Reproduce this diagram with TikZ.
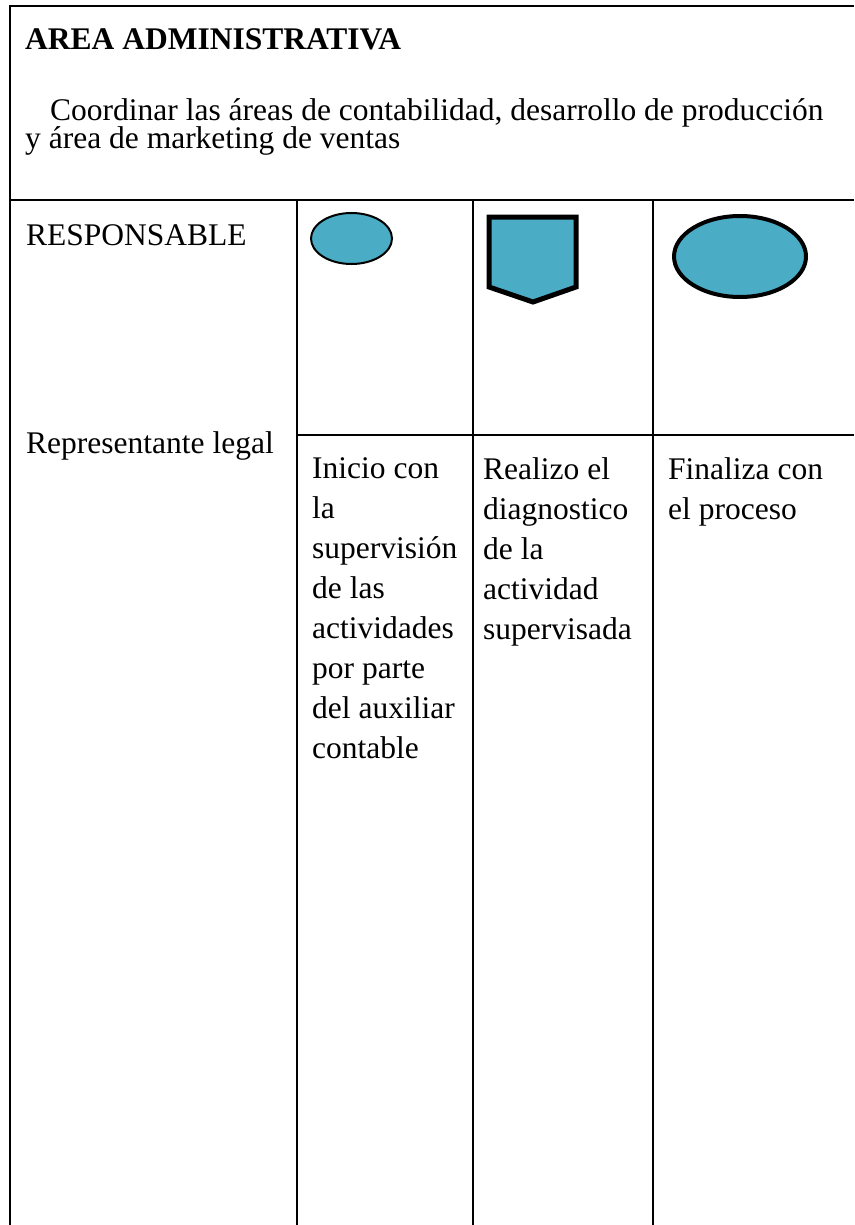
\documentclass[tikz,border=0pt]{standalone}
\usepackage{fontspec}
\setmainfont{Liberation Serif}
\definecolor{celeste}{HTML}{4BACC6}
\begin{document}
\begin{tikzpicture}[x=1pt, y=-1pt,
  rule/.style={line width=2.4pt},
  txt/.style={anchor=base west, inner sep=0pt, font=\fontsize{31.5}{40}\selectfont},
  celltxt/.style={txt, anchor=north west, align=left},
  symb/.style={fill=celeste, draw=black},
]
\useasboundingbox (0,0) rectangle (854,1225);

%frame
\draw[rule] (10,1225) -- (10,6) -- (854,6);
\draw[rule] (10,200) -- (854,200);
\draw[rule] (297,200) -- (297,1225);
\draw[rule] (473,200) -- (473,1225);
\draw[rule] (653,200) -- (653,1225);
\draw[rule] (297,435) -- (854,435);

%header
\node[txt, font=\fontsize{31.5}{40}\bfseries] (titulo) at (25,50) {AREA ADMINISTRATIVA};
\node[txt] (objetivo1) at (50,121) {Coordinar las áreas de contabilidad, desarrollo de producción};
\node[txt] (objetivo2) at (25,149) {y área de marketing de ventas};

%left column
\node[txt] (resp) at (26,245) {RESPONSABLE};
\node[txt] (rep) at (26,453) {Representante legal};

%symbols
\draw[symb, line width=2pt] (351.5,238.5) ellipse [x radius=40.5, y radius=25.5];
\draw[symb, line width=5pt] (489,217) -- (576,217) -- (576,287) -- (533,302)
  -- (489,287) -- cycle;
\draw[symb, line width=4pt] (740,256.5) ellipse [x radius=66, y radius=40.5];

%cells (first baseline at 479)
\node[celltxt] (inicio) at (312,457.5) {Inicio con\\la\\supervisión\\de las\\actividades\\por parte\\del auxiliar\\contable};
\node[celltxt] (realizo) at (483,457.5) {Realizo el\\diagnostico\\de la\\actividad\\supervisada};
\node[celltxt] (finaliza) at (668,457.5) {Finaliza con\\el proceso};

\end{tikzpicture}
\end{document}
